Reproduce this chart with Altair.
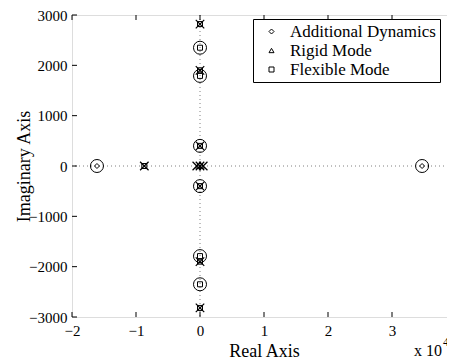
import altair as alt
import pandas as pd

FONT = "Liberation Serif"

# zeros (circles), real part in units of 1e4
zero_re = [-1.61, 3.47, 0.0, 0.0, 0.0, 0.0, 0.0, 0.0]
zero_im = [0, 0, 400, -400, 1790, -1790, 2350, -2350]

# poles (crosses)
pole_re = [-0.87, -0.05, 0.0, 0.05, 0.0, 0.0, 0.0, 0.0, 0.0, 0.0]
pole_im = [0, 0, 0, 0, 400, -400, 1900, -1900, 2820, -2820]

# mode markers
mode_re = [-1.61, 3.47, -0.03, 0.03, -0.87, 0.0, 0.0, 0.0, 0.0, 0.0, 0.0, 0.0, 0.0, 0.0, 0.0]
mode_im = [0, 0, 0, 0, 0, 400, -400, 1790, -1790, 2350, -2350, 1900, -1900, 2820, -2820]
mode_name = ["Additional Dynamics", "Additional Dynamics", "Rigid Mode", "Rigid Mode",
             "Flexible Mode", "Flexible Mode", "Flexible Mode", "Flexible Mode",
             "Flexible Mode", "Flexible Mode", "Flexible Mode", "Flexible Mode",
             "Flexible Mode", "Flexible Mode", "Flexible Mode"]
modes = ["Additional Dynamics", "Rigid Mode", "Flexible Mode"]

x_ticks = [-2, -1, 0, 1, 2, 3, 4]
y_ticks = [-3000, -2000, -1000, 0, 1000, 2000, 3000]

W, H = 384, 302

xs = alt.Scale(domain=[-2, 4], nice=False, zero=False)
ys = alt.Scale(domain=[-3000, 3000], nice=False, zero=False)

x_axis = alt.Axis(values=x_ticks, format="d", domain=False, ticks=False, grid=False,
                  labelFont=FONT, labelFontSize=15, labelPadding=6, labelColor="black",
                  labelFlush=False, title="Real Axis", titleFont=FONT, titleFontSize=18,
                  titleFontWeight="normal", titleColor="black", titlePadding=4)
y_axis = alt.Axis(values=y_ticks, format="d", domain=False, ticks=False, grid=False,
                  labelFont=FONT, labelFontSize=15, labelPadding=5, labelColor="black",
                  labelFlush=False, title="Imaginary Axis", titleFont=FONT, titleFontSize=18,
                  titleFontWeight="normal", titleColor="black", titleX=-39, titleY=H / 2,
                  titleBaseline="bottom")

x_enc = alt.X("re:Q", scale=xs, axis=x_axis)
y_enc = alt.Y("im:Q", scale=ys, axis=y_axis)

zeros = pd.DataFrame({"re": zero_re, "im": zero_im})
poles = pd.DataFrame({"re": pole_re, "im": pole_im})
mk = pd.DataFrame({"re": mode_re, "im": mode_im, "mode": mode_name})
xt = pd.DataFrame({"re": x_ticks})
yt = pd.DataFrame({"im": y_ticks})

vline = alt.Chart(pd.DataFrame({"re": [0]})).mark_rule(
    color="#808080", strokeDash=[1, 3], strokeWidth=1).encode(x=x_enc)
hline = alt.Chart(pd.DataFrame({"im": [0]})).mark_rule(
    color="#808080", strokeDash=[1, 3], strokeWidth=1).encode(y=y_enc)

tb = alt.Chart(xt).mark_rule(color="black").encode(x=x_enc, y=alt.value(H), y2=alt.value(H - 5))
tt = alt.Chart(xt).mark_rule(color="black").encode(x=x_enc, y=alt.value(0), y2=alt.value(5))
tl = alt.Chart(yt).mark_rule(color="black").encode(y=y_enc, x=alt.value(0), x2=alt.value(5))
tr = alt.Chart(yt).mark_rule(color="black").encode(y=y_enc, x=alt.value(W), x2=alt.value(W - 5))

zc = alt.Chart(zeros).mark_point(shape="circle", filled=False, color="black",
                                 size=169, strokeWidth=1, opacity=1).encode(x=x_enc, y=y_enc)
pc = alt.Chart(poles).mark_point(shape="M-1,-1L1,1M-1,1L1,-1", filled=False, color="black",
                                 size=72, strokeWidth=1.2, opacity=1).encode(x=x_enc, y=y_enc)
mc = alt.Chart(mk).mark_point(filled=False, color="black", size=25, strokeWidth=1,
                              opacity=1).encode(
    x=x_enc, y=y_enc,
    shape=alt.Shape("mode:N",
                    scale=alt.Scale(domain=modes, range=["diamond", "triangle-up", "square"]),
                    legend=alt.Legend(title=None, orient="none", legendX=181, legendY=4,
                                      strokeColor="black", fillColor="white", padding=4,
                                      symbolSize=25, symbolStrokeWidth=1,
                                      symbolStrokeColor="black", symbolFillColor="transparent",
                                      symbolOffset=6, labelOffset=10, labelFont=FONT,
                                      labelFontSize=17, labelColor="black", rowPadding=1,
                                      labelLimit=300)))

t1 = alt.Chart(pd.DataFrame({"t": ["x 10"]})).mark_text(
    align="left", baseline="alphabetic", font=FONT, fontSize=16, color="black").encode(
    x=alt.value(342), y=alt.value(341), text="t:N")
t2 = alt.Chart(pd.DataFrame({"t": ["4"]})).mark_text(
    align="left", baseline="alphabetic", font=FONT, fontSize=12, color="black").encode(
    x=alt.value(371), y=alt.value(331), text="t:N")

chart = alt.layer(vline, hline, tb, tt, tl, tr, zc, pc, mc, t1, t2).properties(
    width=W, height=H,
    autosize=alt.AutoSizeParams(type="none"),
    padding={"left": 64, "top": 7, "right": -9, "bottom": 42},
).configure_view(stroke="black", strokeWidth=1).configure(background="white")

chart.save("out.html", embed_options={"renderer": "svg", "actions": False})
